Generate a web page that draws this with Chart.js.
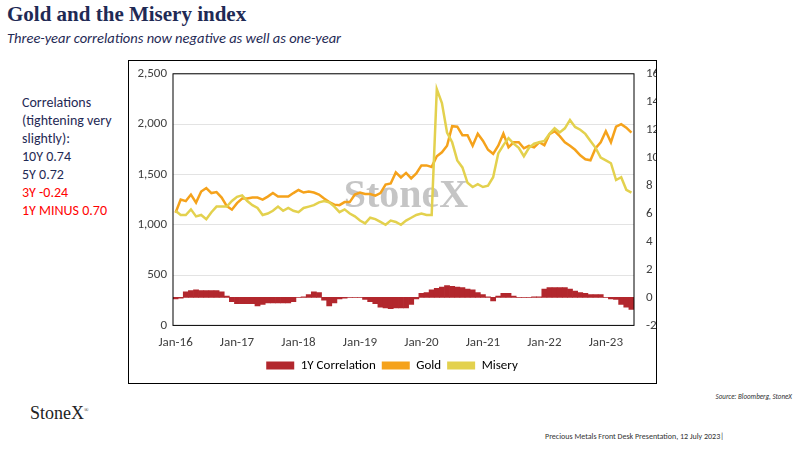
<!DOCTYPE html>
<html>
<head>
<meta charset="utf-8">
<script src="https://cdn.jsdelivr.net/npm/chart.js@4"></script>
<style>
  body { margin: 0; width: 800px; height: 450px; position: relative; background: #fff; font-family: Calibri, Carlito, "Open Sans", sans-serif; overflow: hidden; }
  h1 { position: absolute; left: 7px; top: 2px; margin: 0; font-family: "Liberation Serif", serif; font-size: 21px; color: #1f2a55; font-weight: bold; }
  .sub { position: absolute; left: 7px; top: 29px; font-size: 14.5px; font-style: italic; color: #1f2a55; }
  .side { position: absolute; left: 22px; top: 94px; font-size: 14px; line-height: 18px; color: #1f2a55; }
  .red { color: #ff0000; }
  .frame { position: absolute; left: 128px; top: 60px; width: 527px; height: 322px; border: 1px solid #000; }
  #wrap { position: absolute; left: 128px; top: 60px; width: 560px; height: 324px; }
  .src { position: absolute; right: 8px; top: 392px; font-size: 7px; font-style: italic; color: #333; }
  .logo { position: absolute; left: 30px; top: 403px; font-family: "Liberation Serif", serif; font-size: 18px; color: #222; }
  .foot { position: absolute; left: 545px; top: 431px; font-size: 8px; color: #333; }
</style>
</head>
<body>
<h1>Gold and the Misery index</h1>
<div class="sub">Three-year correlations now negative as well as one-year</div>
<div class="side">Correlations<br>(tightening very<br>slightly):<br>10Y 0.74<br>5Y 0.72<br><span class="red">3Y -0.24</span><br><span class="red">1Y MINUS 0.70</span></div>
<div class="frame"></div>
<div id="wrap"><canvas id="chart" width="560" height="324"></canvas></div>
<div class="src">Source: Bloomberg, StoneX</div>
<div class="logo">StoneX<sup style="font-size:6px">®</sup></div>
<div class="foot">Precious Metals Front Desk Presentation, 12 July 2023|</div>
<script>
// Jan-16 .. Jun-23, monthly
const months = ['Jan','Feb','Mar','Apr','May','Jun','Jul','Aug','Sep','Oct','Nov','Dec'];
const labels = [];
for (let y = 16; y <= 23; y++) {
    for (const m of months) {
        if (y === 23 && labels.length >= 90) break;
        labels.push(m + '-' + y);
    }
}

const gold = [
    1120,1250,1235,1300,1220,1330,1365,1315,1325,1270,1185,1150,
    1215,1260,1260,1270,1270,1250,1280,1315,1280,1280,1280,1315,
    1345,1320,1330,1320,1300,1260,1225,1200,1195,1225,1225,1300,
    1320,1305,1305,1290,1315,1400,1410,1520,1470,1515,1460,1510,
    1590,1590,1575,1680,1720,1785,1980,1975,1890,1890,1785,1905,
    1835,1745,1705,1785,1905,1770,1820,1820,1760,1785,1770,1820,
    1790,1900,1930,1880,1820,1785,1745,1690,1650,1640,1760,1820,
    1930,1820,1975,2000,1965,1915
];

const misery = [
    6.2,5.9,5.9,6.3,5.8,5.9,5.6,6.1,6.5,6.5,6.5,6.9,
    7.2,7.3,6.9,6.6,6.4,5.9,6.0,6.2,6.5,6.2,6.4,6.2,
    6.1,6.4,6.5,6.6,6.8,6.9,6.8,6.5,6.1,6.3,6.0,5.8,
    5.5,5.3,5.7,5.6,5.4,5.2,5.5,5.4,5.2,5.5,5.7,5.9,
    6.0,5.9,5.9,14.9,13.9,11.8,11.1,9.8,9.3,8.2,7.9,8.1,
    7.9,8.0,8.6,10.3,10.9,11.4,11.0,10.7,10.1,10.7,11.0,11.1,
    11.2,11.7,12.1,11.8,12.1,12.7,12.2,12.0,11.7,11.2,10.7,10.0,
    9.8,9.6,8.4,8.6,7.7,7.5
];

const corr1y = [
    -0.1,-0.05,0.4,0.5,0.55,0.5,0.5,0.5,0.5,0.4,0.1,-0.3,
    -0.45,-0.45,-0.45,-0.45,-0.6,-0.5,-0.4,-0.4,-0.4,-0.4,-0.4,-0.3,
    0,0.05,0.2,0.4,0.35,-0.2,-0.6,-0.4,-0.1,-0.05,0,0,
    0,-0.15,-0.3,-0.45,-0.7,-0.75,-0.8,-0.75,-0.75,-0.75,-0.5,-0.1,
    0.3,0.35,0.55,0.65,0.75,0.85,0.8,0.75,0.7,0.6,0.55,0.35,
    0.2,0.05,-0.25,0.1,0.3,0.3,0.1,0,0,0,0.05,0.05,
    0.6,0.7,0.7,0.7,0.7,0.6,0.45,0.35,0.3,0.2,0.2,0.2,
    0,-0.1,-0.15,-0.5,-0.7,-0.85
];

const leftTicks = [0, 500, 1000, 1500, 2000, 2500];
const rightTicks = [-2, 0, 2, 4, 6, 8, 10, 12, 14, 16];

// Contorno preto da área do gráfico e marca d'água
const extras = {
    id: 'extras',
    beforeDatasetsDraw(chart) {
        const { ctx } = chart;
        ctx.save();
        ctx.font = 'bold 40px "Liberation Serif", serif';
        ctx.fillStyle = 'rgba(150,150,150,0.55)';
        ctx.textAlign = 'center';
        ctx.textBaseline = 'middle';
        ctx.fillText('StoneX', 278, 137);
        ctx.restore();
    },
    afterDraw(chart) {
        const { ctx, chartArea: a } = chart;
        ctx.save();
        ctx.strokeStyle = '#000';
        ctx.lineWidth = 1;
        ctx.strokeRect(a.left, a.top, a.right - a.left, a.bottom - a.top);
        ctx.restore();
    }
};

const tickFont = { family: 'Carlito, Calibri, "Open Sans", sans-serif', size: 13 };

new Chart(document.getElementById('chart'), {
    data: {
        labels: labels,
        datasets: [
            { type: 'bar', label: '1Y Correlation', data: corr1y, yAxisID: 'y2', backgroundColor: '#b2272d', barPercentage: 1, categoryPercentage: 1, order: 2 },
            { type: 'line', label: 'Gold', data: gold, yAxisID: 'y', borderColor: '#f5a21b', borderWidth: 2.5, pointRadius: 0, tension: 0, order: 1 },
            { type: 'line', label: 'Misery', data: misery, yAxisID: 'y2', borderColor: '#e3d14e', borderWidth: 2.5, pointRadius: 0, tension: 0, order: 0 }
        ]
    },
    options: {
        responsive: false,
        animation: false,
        layout: { padding: { top: 2, right: 32, left: 0, bottom: 2 } },
        plugins: {
            legend: {
                position: 'bottom',
                labels: {
                    font: tickFont, color: '#404040', boxWidth: 28, boxHeight: 8, padding: 6,
                    generateLabels(chart) {
                        return chart.data.datasets.map((d, i) => ({
                            text: d.label,
                            fillStyle: d.type === 'bar' ? d.backgroundColor : d.borderColor,
                            strokeStyle: d.type === 'bar' ? d.backgroundColor : d.borderColor,
                            lineWidth: 0,
                            datasetIndex: i
                        }));
                    }
                }
            },
            tooltip: { enabled: false }
        },
        scales: {
            x: {
                grid: { display: false },
                border: { display: false },
                ticks: {
                    autoSkip: false, maxRotation: 0, font: tickFont, color: '#404040', padding: 2,
                    callback: (v, i) => (i % 12 === 0 ? labels[i] : '')
                }
            },
            y: {
                position: 'left', min: 0, max: 2500,
                afterBuildTicks: s => { s.ticks = leftTicks.map(v => ({ value: v })); },
                afterFit: s => { s.width = 45; },
                grid: { color: '#e3e3e3', drawTicks: false },
                border: { display: false },
                ticks: { font: tickFont, color: '#404040', padding: 6, callback: v => v.toLocaleString('en-US') }
            },
            y2: {
                position: 'right', min: -2, max: 16,
                afterBuildTicks: s => { s.ticks = rightTicks.map(v => ({ value: v })); },
                afterFit: s => { s.width = 22; },
                grid: { display: false },
                border: { display: false },
                ticks: { font: tickFont, color: '#404040', padding: 4 }
            }
        }
    },
    plugins: [extras]
});
</script>
</body>
</html>
